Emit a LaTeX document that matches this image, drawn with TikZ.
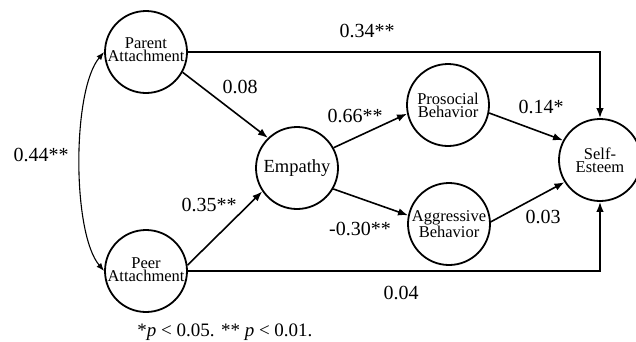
\documentclass[tikz,border=0pt]{standalone}
\usepackage{fontspec}
\setmainfont{Liberation Serif}
\usetikzlibrary{arrows.meta}
\begin{document}
\begin{tikzpicture}[x=1pt,y=-1pt,
  latent/.style={circle,draw,line width=1.8pt,minimum size=82pt,inner sep=0pt,align=center,
    font=\fontsize{16.5}{12.5}\selectfont},
  arrowpath/.style={line width=1.6pt,-{Latex[length=10pt,width=7.5pt]}},
  corrpath/.style={line width=1.1pt,{Latex[length=8pt,width=6pt]}-{Latex[length=8pt,width=6pt]}},
  coef/.style={anchor=base,font=\fontsize{20}{24}\selectfont,inner sep=0pt}]
\useasboundingbox (0,0) rectangle (636,341);
\fill[white] (0,0) rectangle (636,341);

\node[latent] (par) at (146,52) {\raisebox{4pt}{\shortstack{Parent\\[-1.5pt]Attachment}}};
\node[latent] (peer) at (146,271) {\raisebox{3pt}{\shortstack{Peer\\[-1.5pt]Attachment}}};
\node[latent,font=\fontsize{18.5}{22}\selectfont] (emp) at (297,168) {Empathy};
\node[latent] (pro) at (448,105) {\raisebox{-2pt}{\shortstack{Prosocial\\[-1.5pt]Behavior}}};
\node[latent] (agg) at (449,224) {\shortstack{Aggressive\\[-1.5pt]Behavior}};
\node[latent] (self) at (600,160) {\shortstack{Self-\\[-1pt]Esteem}};

\draw[corrpath] (par.180) .. controls (72,90) and (72,233) .. (peer.180);
\draw[arrowpath] (par.east) -| (self.north);
\draw[arrowpath] (peer.east) -| (self.south);
\draw[arrowpath] (par.-29) -- (emp.134);
\draw[arrowpath] (peer.8) -- (emp.214);
\draw[arrowpath] (emp.29) -- (pro.192);
\draw[arrowpath] (emp.-30) -- (agg.168);
\draw[arrowpath] (pro.-11) -- (self.152);
\draw[arrowpath] (agg.3) -- (self.212);

\node[coef] (c1) at (367,37) {0.34**};
\node[coef] (c2) at (240,93) {0.08};
\node[coef] (c3) at (355,122) {0.66**};
\node[coef] (c4) at (541,113) {0.14*};
\node[coef] (c5) at (41,161) {0.44**};
\node[coef] (c6) at (209,211) {0.35**};
\node[coef] (c7) at (360,235) {-0.30**};
\node[coef] (c8) at (543,223) {0.03};
\node[coef] (c9) at (401,299) {0.04};
\node[coef,font=\fontsize{19}{23}\selectfont] (note) at (225,336) {*\textit{p} < 0.05. ** \textit{p} < 0.01.};
\end{tikzpicture}
\end{document}
